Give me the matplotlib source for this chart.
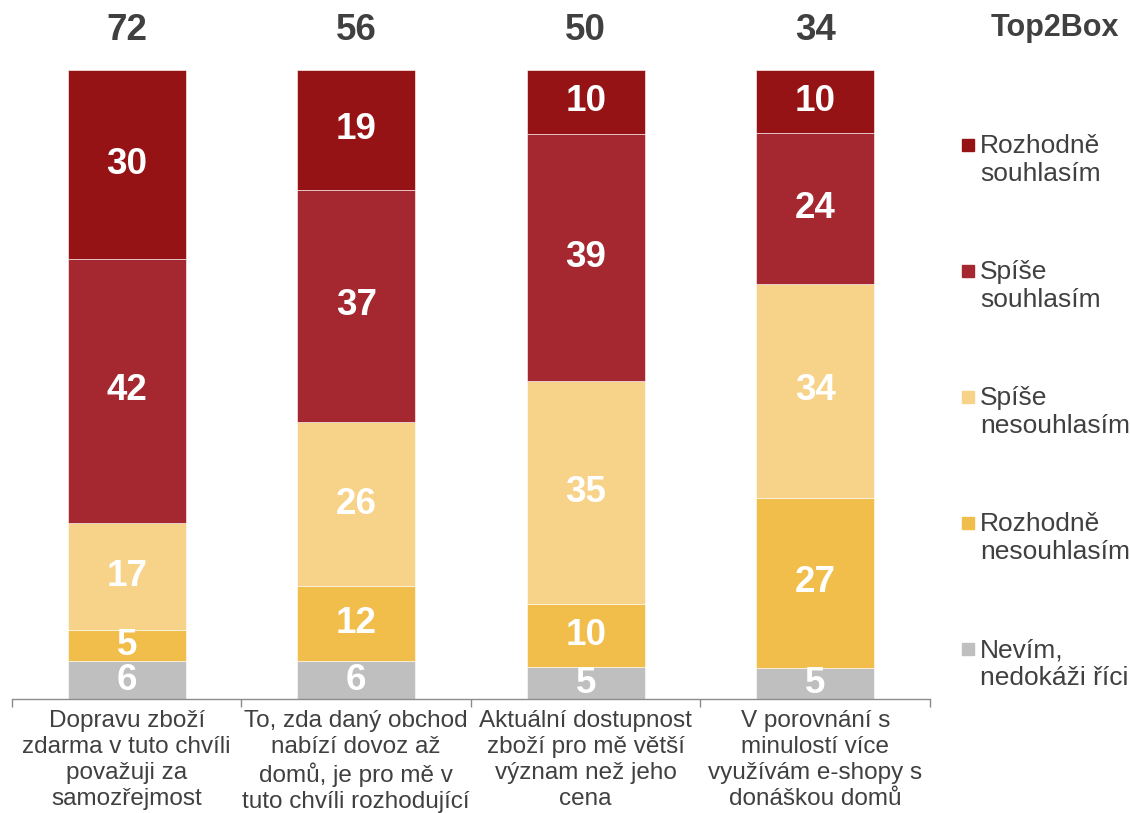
import numpy as np
import matplotlib
matplotlib.use("Agg")
import matplotlib.pyplot as plt
from matplotlib.transforms import blended_transform_factory
from matplotlib.patches import Rectangle

plt.rcParams["font.family"] = ["Liberation Sans", "DejaVu Sans"]

TEXT = "#404040"

categories = [
    "Dopravu zboží\nzdarma v tuto chvíli\npovažuji za\nsamozřejmost",
    "To, zda daný obchod\nnabízí dovoz až\ndomů, je pro mě v\ntuto chvíli rozhodující",
    "Aktuální dostupnost\nzboží pro mě větší\nvýznam než jeho\ncena",
    "V porovnání s\nminulostí více\nvyužívám e-shopy s\ndonáškou domů",
]

# series from bottom to top
series_names = [
    "Nevím,\nnedokáži říci",
    "Rozhodně\nnesouhlasím",
    "Spíše\nnesouhlasím",
    "Spíše\nsouhlasím",
    "Rozhodně\nsouhlasím",
]
series_colors = ["#BFBFBF", "#F1BE4B", "#F7D38A", "#A52830", "#951315"]

nevim = [6, 6, 5, 5]
rozhodne_nesouhlasim = [5, 12, 10, 27]
spise_nesouhlasim = [17, 26, 35, 34]
spise_souhlasim = [42, 37, 39, 24]
rozhodne_souhlasim = [30, 19, 10, 10]

top2box = [72, 56, 50, 34]

W, H = 1130, 813


def fx(px):
    return px / W


def fy(px):
    return 1 - px / H


def main():
    values = np.array([nevim, rozhodne_nesouhlasim, spise_nesouhlasim,
                       spise_souhlasim, rozhodne_souhlasim], dtype=float)
    shares = values / values.sum(axis=0) * 100

    fig = plt.figure(figsize=(W / 100, H / 100), dpi=100)
    ax = fig.add_axes([fx(12), fy(699), fx(930) - fx(12), fy(70) - fy(699)])

    x = np.arange(len(categories))
    bottom = np.zeros(len(categories))
    for i in range(len(series_names)):
        ax.bar(x, shares[i], bottom=bottom, width=0.515,
               color=series_colors[i], edgecolor="white", linewidth=0.4)
        for j in range(len(categories)):
            ax.text(x[j], bottom[j] + shares[i][j] / 2, f"{int(values[i][j])}",
                    ha="center", va="center", color="white",
                    fontsize=26.5, fontweight="bold")
        bottom += shares[i]

    ax.set_xlim(-0.5, len(categories) - 0.5)
    ax.set_ylim(0, 100)

    for s in ["top", "right", "left"]:
        ax.spines[s].set_visible(False)
    ax.spines["bottom"].set_color("#8C8C8C")
    ax.spines["bottom"].set_linewidth(1.0)
    ax.set_yticks([])
    ax.set_xticks(np.arange(-0.5, len(categories), 1.0))
    ax.set_xticklabels([])
    ax.tick_params(axis="x", length=6, width=1.0, color="#8C8C8C", direction="out")

    tr = blended_transform_factory(ax.transData, fig.transFigure)
    for j, lab in enumerate(categories):
        ax.text(x[j], fy(710), lab, transform=tr, ha="center", va="top",
                fontsize=17.5, color=TEXT, linespacing=1.24)
        ax.text(x[j], fy(31), f"{top2box[j]}", transform=tr, ha="center",
                va="center", fontsize=26.5, fontweight="bold", color=TEXT)

    fig.text(fx(1055), fy(28), "Top2Box", ha="center", va="center",
             fontsize=22, fontweight="bold", color=TEXT)

    # legend, top series first
    legend_y = [160, 286, 412, 538, 664]
    for k, i in enumerate(reversed(range(len(series_names)))):
        yc = legend_y[k]
        fig.patches.append(Rectangle((fx(962), fy(yc - 9)), fx(12), fy(yc - 21) - fy(yc - 9),
                                     transform=fig.transFigure,
                                     color=series_colors[i]))
        fig.text(fx(980), fy(yc), series_names[i], ha="left", va="center",
                 fontsize=19, color=TEXT, linespacing=1.2)

    fig.savefig("out.png", dpi=100)
    plt.close(fig)


if __name__ == "__main__":
    main()
